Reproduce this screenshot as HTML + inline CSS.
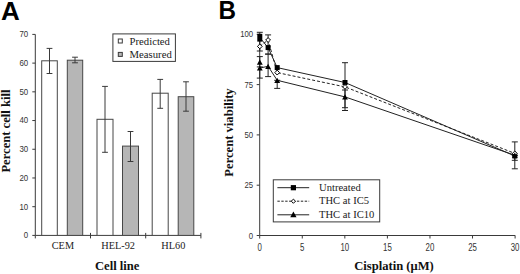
<!DOCTYPE html>
<html><head><meta charset="utf-8"><style>
html,body{margin:0;padding:0;background:#fff;width:520px;height:274px;overflow:hidden}
svg{display:block}
</style></head><body>
<svg width="520" height="274" viewBox="0 0 520 274">
<line x1="35.3" y1="34.4" x2="35.3" y2="235.4" stroke="#3a3a3a" stroke-width="1"/>
<line x1="32.3" y1="235.40" x2="35.3" y2="235.40" stroke="#3a3a3a" stroke-width="1"/>
<text transform="translate(28.2,238.30) scale(0.84,1)" font-family='"Liberation Sans", sans-serif' font-size="9.4" fill="#333" text-anchor="end">0</text>
<line x1="32.3" y1="206.69" x2="35.3" y2="206.69" stroke="#3a3a3a" stroke-width="1"/>
<text transform="translate(28.2,209.59) scale(0.84,1)" font-family='"Liberation Sans", sans-serif' font-size="9.4" fill="#333" text-anchor="end">10</text>
<line x1="32.3" y1="177.97" x2="35.3" y2="177.97" stroke="#3a3a3a" stroke-width="1"/>
<text transform="translate(28.2,180.87) scale(0.84,1)" font-family='"Liberation Sans", sans-serif' font-size="9.4" fill="#333" text-anchor="end">20</text>
<line x1="32.3" y1="149.26" x2="35.3" y2="149.26" stroke="#3a3a3a" stroke-width="1"/>
<text transform="translate(28.2,152.16) scale(0.84,1)" font-family='"Liberation Sans", sans-serif' font-size="9.4" fill="#333" text-anchor="end">30</text>
<line x1="32.3" y1="120.54" x2="35.3" y2="120.54" stroke="#3a3a3a" stroke-width="1"/>
<text transform="translate(28.2,123.44) scale(0.84,1)" font-family='"Liberation Sans", sans-serif' font-size="9.4" fill="#333" text-anchor="end">40</text>
<line x1="32.3" y1="91.83" x2="35.3" y2="91.83" stroke="#3a3a3a" stroke-width="1"/>
<text transform="translate(28.2,94.73) scale(0.84,1)" font-family='"Liberation Sans", sans-serif' font-size="9.4" fill="#333" text-anchor="end">50</text>
<line x1="32.3" y1="63.11" x2="35.3" y2="63.11" stroke="#3a3a3a" stroke-width="1"/>
<text transform="translate(28.2,66.01) scale(0.84,1)" font-family='"Liberation Sans", sans-serif' font-size="9.4" fill="#333" text-anchor="end">60</text>
<line x1="32.3" y1="34.40" x2="35.3" y2="34.40" stroke="#3a3a3a" stroke-width="1"/>
<text transform="translate(28.2,37.30) scale(0.84,1)" font-family='"Liberation Sans", sans-serif' font-size="9.4" fill="#333" text-anchor="end">70</text>
<line x1="35.3" y1="235.4" x2="200.9" y2="235.4" stroke="#3a3a3a" stroke-width="1"/>
<line x1="35.30" y1="235.4" x2="35.30" y2="238.4" stroke="#3a3a3a" stroke-width="1"/>
<line x1="90.50" y1="232.9" x2="90.50" y2="238.4" stroke="#3a3a3a" stroke-width="1"/>
<line x1="145.70" y1="232.9" x2="145.70" y2="238.4" stroke="#3a3a3a" stroke-width="1"/>
<line x1="200.90" y1="232.9" x2="200.90" y2="238.4" stroke="#3a3a3a" stroke-width="1"/>
<rect x="41.70" y="60.80" width="15.60" height="174.60" fill="#fff" stroke="#474747" stroke-width="1"/>
<rect x="67.30" y="60.20" width="15.40" height="175.20" fill="#b6b6b6" stroke="#474747" stroke-width="1"/>
<rect x="97.00" y="119.30" width="16.00" height="116.10" fill="#fff" stroke="#474747" stroke-width="1"/>
<rect x="122.50" y="146.10" width="16.00" height="89.30" fill="#b6b6b6" stroke="#474747" stroke-width="1"/>
<rect x="152.20" y="93.20" width="16.00" height="142.20" fill="#fff" stroke="#474747" stroke-width="1"/>
<rect x="178.20" y="96.70" width="15.60" height="138.70" fill="#b6b6b6" stroke="#474747" stroke-width="1"/>
<line x1="49.50" y1="48.4" x2="49.50" y2="73.5" stroke="#3a3a3a" stroke-width="1"/>
<line x1="46.60" y1="48.4" x2="52.40" y2="48.4" stroke="#3a3a3a" stroke-width="1"/>
<line x1="46.60" y1="73.5" x2="52.40" y2="73.5" stroke="#3a3a3a" stroke-width="1"/>
<line x1="75.00" y1="57.2" x2="75.00" y2="62.8" stroke="#3a3a3a" stroke-width="1"/>
<line x1="72.10" y1="57.2" x2="77.90" y2="57.2" stroke="#3a3a3a" stroke-width="1"/>
<line x1="72.10" y1="62.8" x2="77.90" y2="62.8" stroke="#3a3a3a" stroke-width="1"/>
<line x1="105.00" y1="86.4" x2="105.00" y2="152.3" stroke="#3a3a3a" stroke-width="1"/>
<line x1="102.10" y1="86.4" x2="107.90" y2="86.4" stroke="#3a3a3a" stroke-width="1"/>
<line x1="102.10" y1="152.3" x2="107.90" y2="152.3" stroke="#3a3a3a" stroke-width="1"/>
<line x1="130.50" y1="131.5" x2="130.50" y2="161.5" stroke="#3a3a3a" stroke-width="1"/>
<line x1="127.60" y1="131.5" x2="133.40" y2="131.5" stroke="#3a3a3a" stroke-width="1"/>
<line x1="127.60" y1="161.5" x2="133.40" y2="161.5" stroke="#3a3a3a" stroke-width="1"/>
<line x1="160.20" y1="79.4" x2="160.20" y2="108.3" stroke="#3a3a3a" stroke-width="1"/>
<line x1="157.30" y1="79.4" x2="163.10" y2="79.4" stroke="#3a3a3a" stroke-width="1"/>
<line x1="157.30" y1="108.3" x2="163.10" y2="108.3" stroke="#3a3a3a" stroke-width="1"/>
<line x1="186.00" y1="81.8" x2="186.00" y2="111.2" stroke="#3a3a3a" stroke-width="1"/>
<line x1="183.10" y1="81.8" x2="188.90" y2="81.8" stroke="#3a3a3a" stroke-width="1"/>
<line x1="183.10" y1="111.2" x2="188.90" y2="111.2" stroke="#3a3a3a" stroke-width="1"/>
<text x="62.90" y="249.1" font-family='"Liberation Serif", serif' font-size="10.3" fill="#222" text-anchor="middle">CEM</text>
<text x="118.10" y="249.1" font-family='"Liberation Serif", serif' font-size="10.3" fill="#222" text-anchor="middle">HEL-92</text>
<text x="173.30" y="249.1" font-family='"Liberation Serif", serif' font-size="10.3" fill="#222" text-anchor="middle">HL60</text>
<rect x="112.9" y="33.9" width="62.5" height="27.5" fill="#fff" stroke="#3a3a3a" stroke-width="1"/>
<rect x="118.3" y="39" width="4" height="4" fill="#fff" stroke="#3a3a3a" stroke-width="1"/>
<rect x="118.3" y="52.4" width="4" height="4" fill="#b6b6b6" stroke="#3a3a3a" stroke-width="1"/>
<text x="129.6" y="44.9" font-family='"Liberation Serif", serif' font-size="10.7" fill="#222">Predicted</text>
<text x="129.6" y="57.9" font-family='"Liberation Serif", serif' font-size="10.7" fill="#222">Measured</text>
<text x="117.2" y="270.2" font-family='"Liberation Serif", serif' font-size="12.6" font-weight="bold" fill="#111" text-anchor="middle">Cell line</text>
<text transform="translate(10,131.1) rotate(-90)" x="0" y="0" font-family='"Liberation Serif", serif' font-size="12.6" font-weight="bold" fill="#111" text-anchor="middle">Percent cell kill</text>
<text transform="translate(0.9,19.9) scale(1.04,1)" font-family='"Liberation Sans", sans-serif' font-size="25" font-weight="bold" fill="#000">A</text>
<line x1="259.7" y1="34.30" x2="259.7" y2="235.5" stroke="#3a3a3a" stroke-width="1"/>
<line x1="256.7" y1="235.50" x2="259.7" y2="235.50" stroke="#3a3a3a" stroke-width="1"/>
<text transform="translate(253.1,238.60) scale(0.8,1)" font-family='"Liberation Sans", sans-serif' font-size="9.7" fill="#333" text-anchor="end">0</text>
<line x1="256.7" y1="185.20" x2="259.7" y2="185.20" stroke="#3a3a3a" stroke-width="1"/>
<text transform="translate(253.1,188.30) scale(0.8,1)" font-family='"Liberation Sans", sans-serif' font-size="9.7" fill="#333" text-anchor="end">25</text>
<line x1="256.7" y1="134.90" x2="259.7" y2="134.90" stroke="#3a3a3a" stroke-width="1"/>
<text transform="translate(253.1,138.00) scale(0.8,1)" font-family='"Liberation Sans", sans-serif' font-size="9.7" fill="#333" text-anchor="end">50</text>
<line x1="256.7" y1="84.60" x2="259.7" y2="84.60" stroke="#3a3a3a" stroke-width="1"/>
<text transform="translate(253.1,87.70) scale(0.8,1)" font-family='"Liberation Sans", sans-serif' font-size="9.7" fill="#333" text-anchor="end">75</text>
<line x1="256.7" y1="34.30" x2="259.7" y2="34.30" stroke="#3a3a3a" stroke-width="1"/>
<text transform="translate(253.1,37.40) scale(0.8,1)" font-family='"Liberation Sans", sans-serif' font-size="9.7" fill="#333" text-anchor="end">100</text>
<line x1="259.7" y1="235.5" x2="515.2" y2="235.5" stroke="#3a3a3a" stroke-width="1"/>
<line x1="259.70" y1="235.5" x2="259.70" y2="238.5" stroke="#3a3a3a" stroke-width="1"/>
<text transform="translate(259.70,250.7) scale(0.78,1)" font-family='"Liberation Sans", sans-serif' font-size="10.1" fill="#333" text-anchor="middle">0</text>
<line x1="302.27" y1="235.5" x2="302.27" y2="238.5" stroke="#3a3a3a" stroke-width="1"/>
<text transform="translate(302.27,250.7) scale(0.78,1)" font-family='"Liberation Sans", sans-serif' font-size="10.1" fill="#333" text-anchor="middle">5</text>
<line x1="344.83" y1="235.5" x2="344.83" y2="238.5" stroke="#3a3a3a" stroke-width="1"/>
<text transform="translate(344.83,250.7) scale(0.78,1)" font-family='"Liberation Sans", sans-serif' font-size="10.1" fill="#333" text-anchor="middle">10</text>
<line x1="387.40" y1="235.5" x2="387.40" y2="238.5" stroke="#3a3a3a" stroke-width="1"/>
<text transform="translate(387.40,250.7) scale(0.78,1)" font-family='"Liberation Sans", sans-serif' font-size="10.1" fill="#333" text-anchor="middle">15</text>
<line x1="429.97" y1="235.5" x2="429.97" y2="238.5" stroke="#3a3a3a" stroke-width="1"/>
<text transform="translate(429.97,250.7) scale(0.78,1)" font-family='"Liberation Sans", sans-serif' font-size="10.1" fill="#333" text-anchor="middle">20</text>
<line x1="472.53" y1="235.5" x2="472.53" y2="238.5" stroke="#3a3a3a" stroke-width="1"/>
<text transform="translate(472.53,250.7) scale(0.78,1)" font-family='"Liberation Sans", sans-serif' font-size="10.1" fill="#333" text-anchor="middle">25</text>
<line x1="515.10" y1="235.5" x2="515.10" y2="238.5" stroke="#3a3a3a" stroke-width="1"/>
<text transform="translate(515.10,250.7) scale(0.78,1)" font-family='"Liberation Sans", sans-serif' font-size="10.1" fill="#333" text-anchor="middle">30</text>
<polyline points="259.80,37.60 268.10,47.60 277.20,67.60 345.00,82.50 514.80,156.00" fill="none" stroke="#222" stroke-width="1"/>
<polyline points="259.80,46.40 268.10,40.00 277.20,72.60 345.00,86.90 514.80,153.40" fill="none" stroke="#222" stroke-width="1" stroke-dasharray="3,2"/>
<polyline points="259.80,68.00 268.10,66.30 277.20,80.30 345.00,96.90 514.80,155.20" fill="none" stroke="#222" stroke-width="1"/>
<line x1="259.8" y1="32.3" x2="259.8" y2="51.0" stroke="#222" stroke-width="1"/>
<line x1="256.8" y1="32.3" x2="262.8" y2="32.3" stroke="#222" stroke-width="1"/>
<line x1="256.8" y1="51.0" x2="262.8" y2="51.0" stroke="#222" stroke-width="1"/>
<line x1="259.8" y1="56.6" x2="259.8" y2="78.1" stroke="#222" stroke-width="1"/>
<line x1="256.8" y1="56.6" x2="262.8" y2="56.6" stroke="#222" stroke-width="1"/>
<line x1="256.8" y1="78.1" x2="262.8" y2="78.1" stroke="#222" stroke-width="1"/>
<line x1="268.1" y1="34.9" x2="268.1" y2="54.1" stroke="#222" stroke-width="1"/>
<line x1="265.1" y1="34.9" x2="271.1" y2="34.9" stroke="#222" stroke-width="1"/>
<line x1="265.1" y1="54.1" x2="271.1" y2="54.1" stroke="#222" stroke-width="1"/>
<line x1="268.1" y1="54.1" x2="268.1" y2="76.6" stroke="#222" stroke-width="1"/>
<line x1="265.1" y1="54.1" x2="271.1" y2="54.1" stroke="#222" stroke-width="1"/>
<line x1="265.1" y1="76.6" x2="271.1" y2="76.6" stroke="#222" stroke-width="1"/>
<line x1="277.2" y1="80.3" x2="277.2" y2="88.4" stroke="#222" stroke-width="1"/>
<line x1="274.2" y1="80.3" x2="280.2" y2="80.3" stroke="#222" stroke-width="1"/>
<line x1="274.2" y1="88.4" x2="280.2" y2="88.4" stroke="#222" stroke-width="1"/>
<line x1="345.0" y1="62.7" x2="345.0" y2="107.7" stroke="#222" stroke-width="1"/>
<line x1="342.0" y1="62.7" x2="348.0" y2="62.7" stroke="#222" stroke-width="1"/>
<line x1="342.0" y1="107.7" x2="348.0" y2="107.7" stroke="#222" stroke-width="1"/>
<line x1="345.0" y1="90.0" x2="345.0" y2="110.5" stroke="#222" stroke-width="1"/>
<line x1="342.0" y1="90.0" x2="348.0" y2="90.0" stroke="#222" stroke-width="1"/>
<line x1="342.0" y1="110.5" x2="348.0" y2="110.5" stroke="#222" stroke-width="1"/>
<line x1="514.8" y1="141.9" x2="514.8" y2="168.8" stroke="#222" stroke-width="1"/>
<line x1="511.79999999999995" y1="141.9" x2="517.8" y2="141.9" stroke="#222" stroke-width="1"/>
<line x1="511.79999999999995" y1="168.8" x2="517.8" y2="168.8" stroke="#222" stroke-width="1"/>
<line x1="514.8" y1="155.5" x2="514.8" y2="160.3" stroke="#222" stroke-width="1"/>
<line x1="511.79999999999995" y1="155.5" x2="517.8" y2="155.5" stroke="#222" stroke-width="1"/>
<line x1="511.79999999999995" y1="160.3" x2="517.8" y2="160.3" stroke="#222" stroke-width="1"/>
<line x1="256.8" y1="66.9" x2="262.8" y2="66.9" stroke="#222" stroke-width="1"/>
<rect x="257.3" y="33.8" width="5" height="7.8" fill="#000"/>
<rect x="265.60" y="45.10" width="5.0" height="5.0" fill="#000"/>
<rect x="274.70" y="65.10" width="5.0" height="5.0" fill="#000"/>
<rect x="342.50" y="80.00" width="5.0" height="5.0" fill="#000"/>
<rect x="512.30" y="153.50" width="5.0" height="5.0" fill="#000"/>
<polygon points="259.80,44.00 262.20,46.40 259.80,48.80 257.40,46.40" fill="#fff" stroke="#000" stroke-width="1"/>
<polygon points="268.10,37.60 270.50,40.00 268.10,42.40 265.70,40.00" fill="#fff" stroke="#000" stroke-width="1"/>
<polygon points="277.20,70.20 279.60,72.60 277.20,75.00 274.80,72.60" fill="#fff" stroke="#000" stroke-width="1"/>
<polygon points="345.00,84.50 347.40,86.90 345.00,89.30 342.60,86.90" fill="#fff" stroke="#000" stroke-width="1"/>
<polygon points="514.80,151.00 517.20,153.40 514.80,155.80 512.40,153.40" fill="#fff" stroke="#000" stroke-width="1"/>
<polygon points="259.80,65.40 262.71,70.60 256.89,70.60" fill="#000"/>
<polygon points="268.10,63.70 271.01,68.90 265.19,68.90" fill="#000"/>
<polygon points="277.20,77.70 280.11,82.90 274.29,82.90" fill="#000"/>
<polygon points="345.00,94.30 347.91,99.50 342.09,99.50" fill="#000"/>
<polygon points="514.80,152.60 517.71,157.80 511.89,157.80" fill="#000"/>
<polygon points="259.80,59.50 262.71,64.70 256.89,64.70" fill="#000"/>
<rect x="273.3" y="179.8" width="106.4" height="42.1" fill="#fff" stroke="#3a3a3a" stroke-width="1"/>
<line x1="277.4" y1="187.7" x2="309.2" y2="187.7" stroke="#222" stroke-width="1"/>
<line x1="277.4" y1="201.2" x2="309.2" y2="201.2" stroke="#222" stroke-width="1" stroke-dasharray="2.4,1.5"/>
<line x1="277.4" y1="214.8" x2="309.2" y2="214.8" stroke="#222" stroke-width="1"/>
<rect x="290.80" y="185.10" width="5.2" height="5.2" fill="#000"/>
<polygon points="293.40,199.10 295.50,201.20 293.40,203.30 291.30,201.20" fill="#fff" stroke="#000" stroke-width="1"/>
<polygon points="293.40,211.60 296.54,217.20 290.26,217.20" fill="#000"/>
<text x="319" y="191.0" font-family='"Liberation Serif", serif' font-size="10.6" fill="#222">Untreated</text>
<text x="319" y="204.2" font-family='"Liberation Serif", serif' font-size="10.6" fill="#222">THC at IC5</text>
<text x="319" y="217.6" font-family='"Liberation Serif", serif' font-size="10.6" fill="#222">THC at IC10</text>
<text x="394" y="270.2" font-family='"Liberation Serif", serif' font-size="12.6" font-weight="bold" fill="#111" text-anchor="middle">Cisplatin (μM)</text>
<text transform="translate(233,132.5) rotate(-90)" x="0" y="0" font-family='"Liberation Serif", serif' font-size="12.6" font-weight="bold" fill="#111" text-anchor="middle">Percent viability</text>
<text transform="translate(218.6,19.3) scale(0.97,1)" font-family='"Liberation Sans", sans-serif' font-size="25" font-weight="bold" fill="#000">B</text>
</svg>
</body></html>
